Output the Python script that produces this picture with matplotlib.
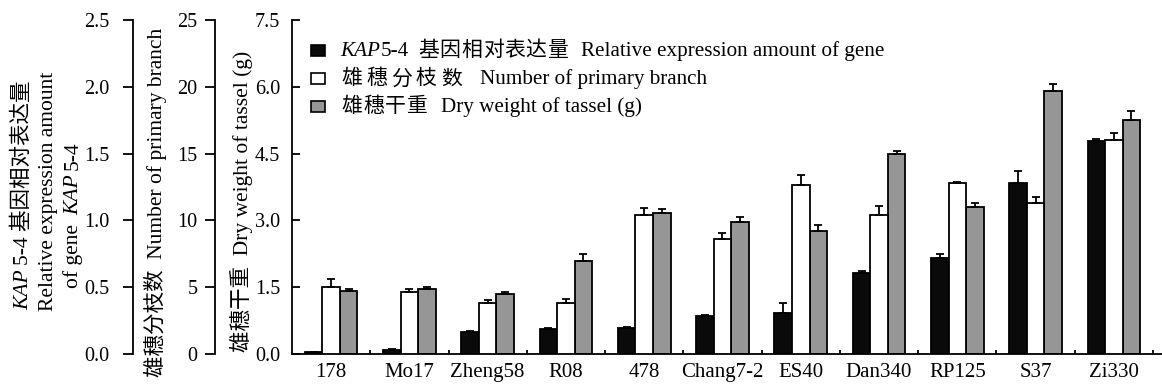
import matplotlib
matplotlib.use('Agg')
import matplotlib.pyplot as plt
import numpy as np
from matplotlib.patches import Rectangle

plt.rcParams['font.family'] = ['Liberation Serif', 'Noto Sans CJK SC']

# ---------------- data ----------------
cultivars = ['178', 'Mo17', 'Zheng58', 'R08', '478', 'Chang7-2', 'ES40',
             'Dan340', 'RP125', 'S37', 'Zi330']
expr = [0.013, 0.032, 0.162, 0.187, 0.197, 0.284, 0.309, 0.604, 0.716, 1.277, 1.594]
expr_err = [0.004, 0.005, 0.012, 0.007, 0.007, 0.010, 0.070, 0.020, 0.032, 0.092, 0.015]
branch = [4.99, 4.62, 3.79, 3.79, 10.40, 8.60, 12.62, 10.40, 12.82, 11.28, 16.02]
branch_err = [0.60, 0.27, 0.27, 0.35, 0.55, 0.45, 0.80, 0.67, 0.07, 0.45, 0.55]
weight = [1.415, 1.47, 1.355, 2.096, 3.16, 2.964, 2.755, 4.49, 3.31, 5.91, 5.255]
weight_err = [0.04, 0.04, 0.045, 0.14, 0.09, 0.11, 0.135, 0.06, 0.09, 0.15, 0.21]

expr_ticks = [0.0, 0.5, 1.0, 1.5, 2.0, 2.5]
branch_ticks = [0, 5, 10, 15, 20, 25]
weight_ticks = [0.0, 1.5, 3.0, 4.5, 6.0, 7.5]

legend_cn = ['基因相对表达量', '雄穗分枝数', '雄穗干重']
legend_en = ['Relative expression amount of gene', 'Number of primary branch',
             'Dry weight of tassel (g)']
legend_colors = ['#0a0a0a', 'white', '#969696']

# ---------------- figure ----------------
W, H = 1162, 390
DPI = 100
fig = plt.figure(figsize=(W / DPI, H / DPI), dpi=DPI)
PT = 72.0 / DPI  # points per pixel

ax = fig.add_axes([292 / W, 36 / H, (W - 292) / W, 334 / H])
ax_e = ax.twinx()
ax_b = ax.twinx()

LW = 1.3
x = np.arange(len(cultivars))
bw = 0.224

ax.set_xlim(-0.5, 10.615)
ax.set_ylim(0, 7.5)
ax_e.set_ylim(0, 2.5)
ax_b.set_ylim(0, 25)

bar_kw = dict(edgecolor='black', linewidth=LW)
err_kw = dict(fmt='none', ecolor='black', elinewidth=1.3, capsize=2.6, capthick=1.3)
zeros = np.zeros(len(x))

ax_e.bar(x - bw, expr, bw, color=legend_colors[0], **bar_kw)
ax_e.errorbar(x - bw, expr, yerr=[zeros, expr_err], **err_kw)
ax_b.bar(x, branch, bw, color=legend_colors[1], **bar_kw)
ax_b.errorbar(x, branch, yerr=[zeros, branch_err], **err_kw)
ax.bar(x + bw, weight, bw, color=legend_colors[2], **bar_kw)
ax.errorbar(x + bw, weight, yerr=[zeros, weight_err], **err_kw)

# main axis styling
for s in ['top', 'right']:
    ax.spines[s].set_visible(False)
for s in ['left', 'bottom']:
    ax.spines[s].set_linewidth(LW)
ax.set_yticks(weight_ticks)
ax.set_yticklabels([f"{v:.1f}" for v in weight_ticks])
ax.tick_params(axis='y', direction='in', length=8 * PT, width=LW, pad=8.6, labelsize=14.5)
ax.set_xticks(x)
ax.set_xticklabels(cultivars)
ax.tick_params(axis='x', which='major', length=0, pad=6.5, labelsize=15)
ax.set_xticks(np.arange(0.5, 11, 1), minor=True)
ax.tick_params(axis='x', which='minor', direction='in', length=4 * PT, width=LW)

# twin axes styling
def style_twin(a, offset_px, ticks, labels, pad):
    for s in ['top', 'right', 'bottom']:
        a.spines[s].set_visible(False)
    a.spines['left'].set_visible(True)
    a.spines['left'].set_linewidth(LW)
    a.spines['left'].set_position(('outward', offset_px * PT))
    a.yaxis.set_ticks_position('left')
    a.set_yticks(ticks)
    a.set_yticklabels(labels)
    a.tick_params(axis='y', direction='out', length=10 * PT, width=LW, pad=pad, labelsize=14.5)

style_twin(ax_e, 292 - 133, expr_ticks, [f"{v:.1f}" for v in expr_ticks], 10.0)
style_twin(ax_b, 292 - 215, branch_ticks, [str(v) for v in branch_ticks], 5.5)

fig.canvas.draw()
r = fig.canvas.get_renderer()

LABEL_FS = 15.5

def vtext(xb, yc, pieces, size=LABEL_FS):
    """Rotated (90 deg) text made of pieces, baseline at pixel x=xb, centred at pixel y=yc."""
    objs = []
    total = 0
    for s, style, gap in pieces:
        t = fig.text(0, 0, s, fontsize=size, style=style, rotation=90,
                     rotation_mode='anchor', ha='left', va='baseline')
        L = t.get_window_extent(r).height
        objs.append((t, L, gap))
        total += L + gap
    y = H - (yc + total / 2)  # bottom in up-coordinates
    for t, L, gap in objs:
        y += gap
        t.set_position((xb / W, y / H))
        y += L

def htext(xs, yb, s, size, style='normal'):
    t = fig.text(xs / W, (H - yb) / H, s, fontsize=size, style=style,
                 ha='left', va='baseline')
    return xs + t.get_window_extent(r).width

def hcjk(xs, yb, s, size, pitch):
    for i, ch in enumerate(s):
        fig.text((xs + i * pitch) / W, (H - yb) / H, ch, fontsize=size,
                 ha='left', va='baseline')
    return xs + len(s) * pitch

# y labels
vtext(28, 195, [("KAP", "italic", 0), ("5-4 基因相对表达量", "normal", 4)])
vtext(53, 191, [("Relative expression amount", "normal", 0)])
vtext(78, 215, [("of gene", "normal", 0), ("KAP", "italic", 9), ("5-4", "normal", 4)])
vtext(162, 202, [("雄穗分枝数  Number of primary branch", "normal", 0)])
vtext(248, 201, [("雄穗干重  Dry weight of tassel (g)", "normal", 0)])

# legend
row_base = [55.7, 84.3, 112.0]
cn_pitch = [21.5, 25.0, 22.0]
cn_gap = [12, 14, 12]
LFS = 15.2
for i in range(3):
    yb = row_base[i]
    fig.patches.append(Rectangle((311 / W, (H - yb) / H), 14 / W, 11 / H,
                                 transform=fig.transFigure, facecolor=legend_colors[i],
                                 edgecolor='black', linewidth=1.2))
    xx = 341
    if i == 0:
        xx = htext(340, yb, "KAP", LFS, 'italic')
        xx = htext(xx + 1, yb, "5-4", LFS) + 9
    xx = hcjk(xx, yb, legend_cn[i], 15, cn_pitch[i])
    htext(xx + cn_gap[i], yb, legend_en[i], LFS)

fig.savefig('out.png', dpi=DPI)
